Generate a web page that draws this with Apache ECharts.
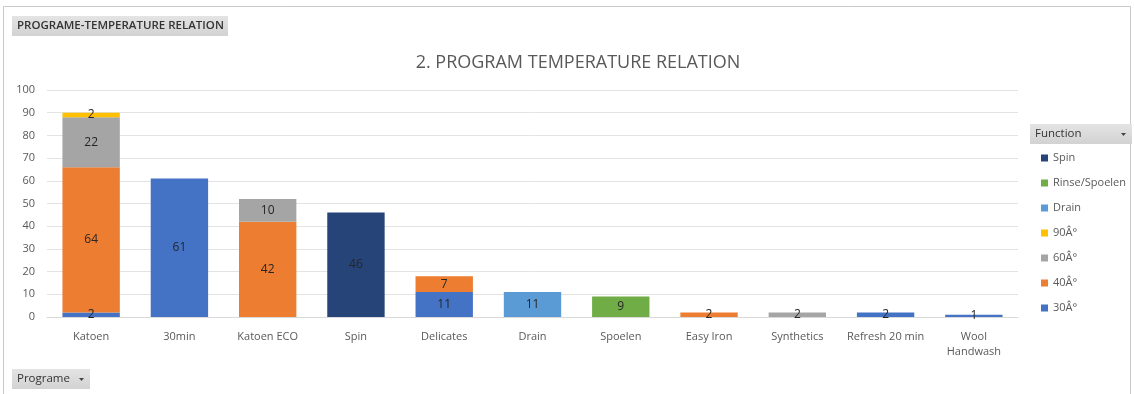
<!DOCTYPE html>
<html>
<head>
<meta charset="utf-8">
<script src="https://cdn.jsdelivr.net/npm/echarts@6/dist/echarts.min.js"></script>
<style>
  html, body { margin: 0; padding: 0; background: #fff; }
  #chart { width: 1134px; height: 394px; }
</style>
</head>
<body>
<div id="chart"></div>
<script>
// Programs on the x axis
const programs = ['Katoen', '30min', 'Katoen ECO', 'Spin', 'Delicates', 'Drain', 'Spoelen',
  'Easy Iron', 'Synthetics', 'Refresh 20 min', 'Wool\nHandwash'];

// Count per function, one value per program (null = not used)
const t30   = [2,    61,   null, null, 11,   null, null, null, null, 2,    1];
const t40   = [64,   null, 42,   null, 7,    null, null, 2,    null, null, null];
const t60   = [22,   null, 10,   null, null, null, null, null, 2,    null, null];
const t90   = [2,    null, null, null, null, null, null, null, null, null, null];
const drain = [null, null, null, null, null, 11,   null, null, null, null, null];
const rinse = [null, null, null, null, null, null, 9,    null, null, null, null];
const spin  = [null, null, null, 46,   null, null, null, null, null, null, null];

const yTicks = { min: 0, max: 100, interval: 10 };

const seriesDefs = [
  { name: '30Â°', data: t30, color: '#4472C4' },
  { name: '40Â°', data: t40, color: '#ED7D31' },
  { name: '60Â°', data: t60, color: '#A5A5A5' },
  { name: '90Â°', data: t90, color: '#FFC000' },
  { name: 'Drain', data: drain, color: '#5B9BD5' },
  { name: 'Rinse/Spoelen', data: rinse, color: '#70AD47' },
  { name: 'Spin', data: spin, color: '#264478' }
];

const legendOrder = ['Spin', 'Rinse/Spoelen', 'Drain', '90Â°', '60Â°', '40Â°', '30Â°'];

const font = 'Open Sans, Noto Sans, sans-serif';

const chart = echarts.init(document.getElementById('chart'), null, { renderer: 'canvas' });

function button(x, y, w, h, text, arrow, textFont) {
  const els = [
    {
      type: 'rect',
      shape: { x: x, y: y, width: w, height: h },
      style: {
        fill: new echarts.graphic.LinearGradient(0, 0, 0, 1, [
          { offset: 0, color: '#e4e4e4' },
          { offset: 1, color: '#d2d2d2' }
        ]),
        stroke: null
      },
      z: 10
    },
    {
      type: 'text',
      left: x + 5,
      top: y + 4,
      style: { text: text, fill: '#333333', font: textFont || ('11px ' + font) },
      z: 11
    }
  ];
  if (arrow) {
    els.push({
      type: 'polygon',
      shape: { points: [[x + w - 11, y + h / 2 - 1], [x + w - 6, y + h / 2 - 1], [x + w - 8.5, y + h / 2 + 2]] },
      style: { fill: '#444' },
      z: 11
    });
  }
  return els;
}

const graphics = [
  {
    type: 'rect',
    shape: { x: 3.5, y: 6.5, width: 1127, height: 400 },
    style: { fill: null, stroke: '#c9c9c9', lineWidth: 1 },
    z: 1
  }
].concat(
  button(12, 16, 216, 20, 'PROGRAME-TEMPERATURE RELATION', false, '600 11.5px ' + font),
  button(1030, 124, 102, 20, 'Function', true, '500 11.5px ' + font),
  button(12, 369, 78, 20, 'Programe', true, '500 11.5px ' + font)
);

chart.setOption({
  animation: false,
  backgroundColor: '#ffffff',
  title: {
    text: '2. PROGRAM TEMPERATURE RELATION',
    left: 573,
    textAlign: 'center',
    top: 49,
    textStyle: { fontFamily: font, fontSize: 18, fontWeight: 'normal', color: '#595959' }
  },
  grid: { left: 47, right: 116, top: 90, bottom: 77, containLabel: false },
  legend: {
    data: legendOrder,
    orient: 'vertical',
    left: 1036,
    top: 147,
    itemWidth: 7,
    itemHeight: 7,
    itemGap: 13,
    icon: 'rect',
    textStyle: { fontFamily: font, fontSize: 11, color: '#595959', lineHeight: 12 }
  },
  xAxis: {
    type: 'category',
    data: programs,
    axisLine: { show: true, lineStyle: { color: '#d9d9d9' } },
    axisTick: { show: false },
    axisLabel: { fontFamily: font, fontSize: 11, color: '#595959', margin: 12, interval: 0, lineHeight: 15 }
  },
  yAxis: {
    type: 'value',
    min: yTicks.min,
    max: yTicks.max,
    interval: yTicks.interval,
    axisLine: { show: false },
    axisTick: { show: false },
    splitLine: { lineStyle: { color: '#e3e3e3' } },
    axisLabel: { fontFamily: font, fontSize: 11, color: '#595959', margin: 12 }
  },
  graphic: graphics,
  series: seriesDefs.map(s => ({
    name: s.name,
    type: 'bar',
    stack: 'total',
    data: s.data,
    barCategoryGap: '35%',
    itemStyle: { color: s.color },
    label: {
      show: true,
      position: 'inside',
      fontFamily: font,
      fontSize: 12,
      color: '#262626'
    }
  }))
});
</script>
</body>
</html>
